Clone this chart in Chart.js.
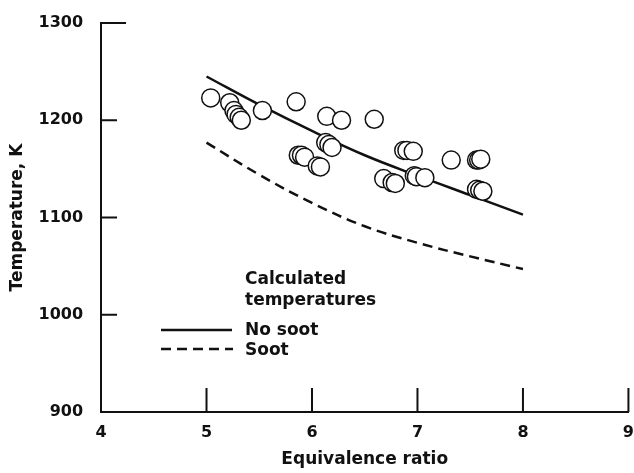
<!DOCTYPE html>
<html>
<head>
<meta charset="utf-8">
<script src="https://cdn.jsdelivr.net/npm/chart.js@4.4.1/dist/chart.umd.min.js"></script>
<style>
  html, body { margin: 0; padding: 0; background: #fff; }
  #wrap { width: 634px; height: 473px; }
</style>
</head>
<body>
<div id="wrap"><canvas id="chart"></canvas></div>
<script>
// Measured temperatures (circles)
const measuredPhi = [5.04, 5.22, 5.26, 5.28, 5.31, 5.33, 5.53, 5.85, 6.14, 6.28, 6.59,
  6.13, 6.16, 6.19, 5.87, 5.90, 5.93, 6.05, 6.08, 6.87, 6.90, 6.96,
  6.68, 6.76, 6.79, 6.97, 6.99, 7.07, 7.32, 7.56, 7.58, 7.60, 7.56, 7.59, 7.62];
const measuredT = [1223, 1218, 1210, 1206, 1203, 1200, 1210, 1219, 1204, 1200, 1201,
  1177, 1175, 1172, 1164, 1164, 1162, 1153, 1152, 1169, 1169, 1168,
  1140, 1136, 1135, 1143, 1142, 1141, 1159, 1159, 1159, 1160, 1129, 1128, 1127];

// Calculated temperatures
const calcPhi = [5, 5.5, 6, 6.5, 7, 7.5, 8];
const noSootT = [1245, 1216, 1189, 1164, 1143, 1123, 1103];
const sootT = [1177, 1144, 1115, 1091, 1074, 1060, 1047];

const xTicks = [4, 5, 6, 7, 8, 9];
const yTicks = [900, 1000, 1100, 1200, 1300];

const ink = '#111';
const toXY = (xs, ys) => xs.map((x, i) => ({ x: x, y: ys[i] }));

Chart.defaults.font.family = 'DejaVu Sans';
Chart.defaults.font.weight = 'bold';
Chart.defaults.color = ink;

// ticks drawn inward from the axes, like the original plot
const innerTicks = {
  id: 'innerTicks',
  afterDraw(chart) {
    const { ctx, scales: { x, y } } = chart;
    ctx.save();
    ctx.strokeStyle = ink;
    ctx.lineWidth = 2;
    ctx.beginPath();
    xTicks.forEach(v => {
      if (v === xTicks[0]) return;
      const px = x.getPixelForValue(v);
      ctx.moveTo(px, y.bottom);
      ctx.lineTo(px, y.bottom - 24);
    });
    yTicks.forEach(v => {
      if (v === yTicks[0]) return;
      const py = y.getPixelForValue(v);
      const len = v === yTicks[yTicks.length - 1] ? 25 : 16;
      ctx.moveTo(x.left, py);
      ctx.lineTo(x.left + len, py);
    });
    ctx.stroke();
    ctx.restore();
  }
};

// legend block inside the plot
const calcLegend = {
  id: 'calcLegend',
  afterDraw(chart) {
    const { ctx } = chart;
    ctx.save();
    ctx.fillStyle = ink;
    ctx.font = 'bold 17px "DejaVu Sans"';
    ctx.textBaseline = 'middle';
    ctx.fillText('Calculated', 245, 280);
    ctx.fillText('temperatures', 245, 301);
    ctx.fillText('No soot', 245, 331);
    ctx.fillText('Soot', 245, 351);
    ctx.strokeStyle = ink;
    ctx.lineWidth = 2.5;
    ctx.beginPath();
    ctx.moveTo(161, 330);
    ctx.lineTo(232, 330);
    ctx.stroke();
    ctx.setLineDash([10, 6]);
    ctx.beginPath();
    ctx.moveTo(161, 349);
    ctx.lineTo(233, 349);
    ctx.stroke();
    ctx.restore();
  }
};

new Chart(document.getElementById('chart'), {
  type: 'scatter',
  data: {
    datasets: [
      {
        label: 'Measured',
        data: toXY(measuredPhi, measuredT),
        pointRadius: 9,
        pointBorderWidth: 1.5,
        pointBorderColor: ink,
        pointBackgroundColor: '#fff',
        showLine: false
      },
      {
        label: 'No soot',
        data: toXY(calcPhi, noSootT),
        showLine: true,
        borderColor: ink,
        borderWidth: 2.5,
        pointRadius: 0,
        tension: 0.4
      },
      {
        label: 'Soot',
        data: toXY(calcPhi, sootT),
        showLine: true,
        borderColor: ink,
        borderWidth: 2.5,
        borderDash: [10, 6],
        pointRadius: 0,
        tension: 0.4
      }
    ]
  },
  options: {
    responsive: true,
    maintainAspectRatio: false,
    animation: false,
    layout: { autoPadding: false, padding: { top: 23, right: 0, bottom: 0, left: 0 } },
    plugins: { legend: { display: false }, tooltip: { enabled: false } },
    scales: {
      x: {
        type: 'linear',
        min: 4,
        max: 9,
        afterBuildTicks: s => { s.ticks = xTicks.map(v => ({ value: v })); },
        grid: { display: false, drawTicks: false },
        border: { display: true, color: ink, width: 2 },
        ticks: {
          padding: 0,
          font: { size: 16, lineHeight: 2.625 },
          color: ink,
          callback: v => String(v)
        },
        title: {
          display: true,
          text: 'Equivalence ratio',
          font: { size: 17, lineHeight: 1 },
          color: ink,
          padding: { top: -3, bottom: 5 }
        }
      },
      y: {
        type: 'linear',
        min: 900,
        max: 1300,
        afterBuildTicks: s => { s.ticks = yTicks.map(v => ({ value: v })); },
        afterFit: s => { s.paddingTop = 0; },
        grid: { display: false, drawTicks: false },
        border: { display: true, color: ink, width: 2 },
        ticks: {
          padding: 18,
          font: { size: 16 },
          color: ink,
          callback: v => String(v)
        },
        title: {
          display: true,
          text: 'Temperature, K',
          font: { size: 17, lineHeight: 1 },
          color: ink,
          padding: { top: 9.5, bottom: -6 }
        }
      }
    }
  },
  plugins: [innerTicks, calcLegend]
});
</script>
</body>
</html>
